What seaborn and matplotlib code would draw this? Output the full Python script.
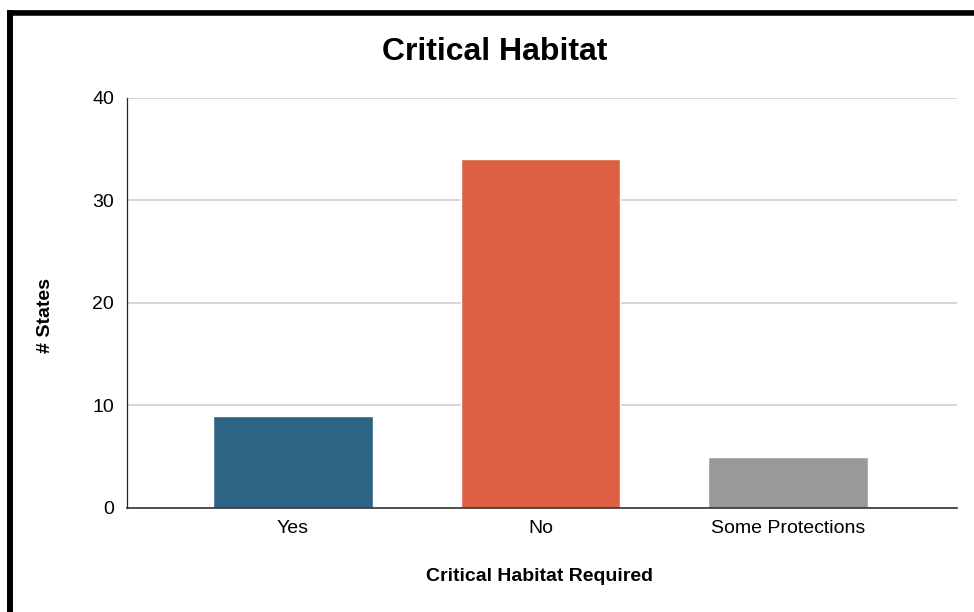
import numpy as np
import pandas as pd
import seaborn as sns
import matplotlib.pyplot as plt
from matplotlib.lines import Line2D

# chart data
categories = ["Yes", "No", "Some Protections"]
num_states = [9, 34, 5]
bar_colors = ["#2e6483", "#dd6043", "#999999"]

df = pd.DataFrame({"required": categories, "states": num_states})

sns.set_theme(style="white")
plt.rcParams['font.family'] = ['Liberation Sans', 'DejaVu Sans']
plt.rcParams['text.color'] = 'black'

fig = plt.figure(figsize=(9.74, 6.12), dpi=100)
ax = fig.add_axes([0.130, 0.170, 0.8525, 0.670])

sns.barplot(data=df, x="required", y="states", hue="required",
            palette=bar_colors, width=0.645, legend=False, ax=ax,
            saturation=1)

ax.set_ylim(0, 40)
ax.set_yticks([0, 10, 20, 30, 40])
ax.set_xlim(-0.67, 2.68)
ax.yaxis.grid(True, color="#cccccc", linewidth=1.1)
ax.set_axisbelow(True)
for s in ["top", "right"]:
    ax.spines[s].set_visible(False)
ax.spines["left"].set_color("#222222")
ax.spines["left"].set_linewidth(0.9)
ax.spines["bottom"].set_color("#333333")
ax.spines["bottom"].set_linewidth(1.2)
ax.tick_params(axis="both", length=0, labelsize=14, colors="black")
ax.tick_params(axis="x", pad=9)
ax.tick_params(axis="y", pad=9)

ax.set_xlabel("Critical Habitat Required", fontsize=14, fontweight="bold", color="black")
ax.set_ylabel("# States", fontsize=14, fontweight="bold", color="black")
ax.xaxis.set_label_coords(0.4975, -0.168)
ax.xaxis.label.set_va("center")
ax.yaxis.set_label_coords(-0.0975, 0.47)
ax.yaxis.label.set_va("center")

fig.text(0.508, 0.915, "Critical Habitat", ha="center", va="center",
         fontsize=23, fontweight="bold", color="black")

# black frame on top and left side
fig.add_artist(Line2D([7 / 974, 1], [1 - 9.5 / 612, 1 - 9.5 / 612], color="#999999", linewidth=0.7,
                      transform=fig.transFigure))
fig.add_artist(Line2D([7 / 974, 1], [1 - 13 / 612, 1 - 13 / 612], color="black", linewidth=4.0,
                      solid_capstyle="butt", transform=fig.transFigure))
fig.add_artist(Line2D([10 / 974, 10 / 974], [0, 1 - 10 / 612], color="black", linewidth=4.3,
                      solid_capstyle="butt", transform=fig.transFigure))

fig.savefig("out.png", dpi=100)
